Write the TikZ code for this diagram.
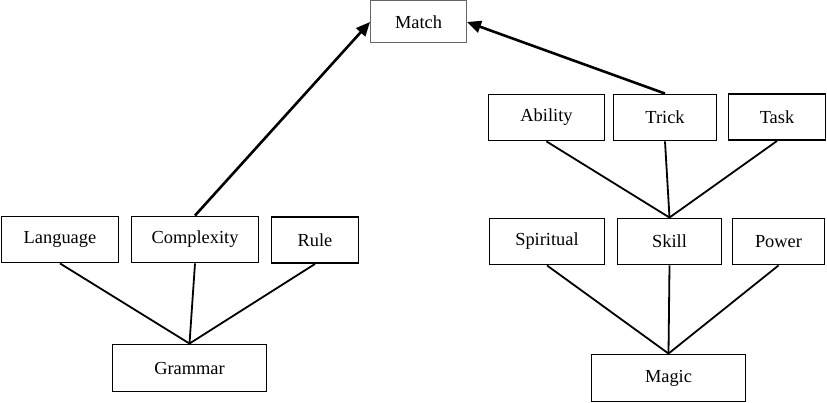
\documentclass[tikz,border=0pt]{standalone}
\usepackage{fontspec}
\setmainfont{Liberation Serif}
\usetikzlibrary{arrows.meta}
\tikzset{
    box/.style={draw, line width=1.9pt, minimum height=46pt, inner sep=0pt, font=\fontsize{18.4}{20}\selectfont},
    link/.style={line width=1.8pt},
    toarrow/.style={line width=2.6pt, -{Triangle[length=14pt,width=12pt]}}
}
\begin{document}
\begin{tikzpicture}[x=1pt, y=-1pt]
                    \useasboundingbox (0,0) rectangle (827,403);
                    % top
                    \node[box, draw=black!60, line width=1pt, minimum width=96pt, minimum height=42pt] (match) at (418.5,22) {Match};

                    % Grammar tree
                    \begin{scope}
                        \node[box, minimum width=117pt] (lang) at (60,239.5) {Language};
                        \node[box, minimum width=127pt] (cplx) at (195,239.5) {Complexity};
                        \node[box, minimum width=87pt] (rule) at (315,240) {Rule};
                        \node[box, minimum width=154pt, minimum height=47pt] (gram) at (189.5,368) {Grammar};
                        \draw[link] (lang.south) -- (gram.north);
                        \draw[link] (cplx.south) -- (gram.north);
                        \draw[link] (rule.south) -- (gram.north);
                    \end{scope}

                    % Magic tree
                    \begin{scope}
                        \node[box, minimum width=116pt] (abil) at (546.5,117.5) {Ability};
                        \node[box, minimum width=103pt] (trick) at (665,117.5) {Trick};
                        \node[box, minimum width=97pt] (task) at (777,117) {Task};
                        \node[box, minimum width=115pt] (spir) at (547,241.5) {Spiritual};
                        \node[box, minimum width=104pt] (skill) at (669.5,241.5) {Skill};
                        \node[box, minimum width=92pt] (power) at (778.5,241.5) {Power};
                        \node[box, minimum width=154pt, minimum height=47pt] (magic) at (668.5,378) {Magic};
                        \draw[link] (abil.south) -- (skill.north);
                        \draw[link] (trick.south) -- (skill.north);
                        \draw[link] (task.south) -- (skill.north);
                        \draw[link] (spir.south) -- (magic.north);
                        \draw[link] (skill.south) -- (magic.north);
                        \draw[link] (power.south) -- (magic.north);
                    \end{scope}

                    % arrows to Match
                    \draw[toarrow] (cplx.north) -- (match.west);
                    \draw[toarrow] (trick.north) -- (match.east);
                \end{tikzpicture}
\end{document}
